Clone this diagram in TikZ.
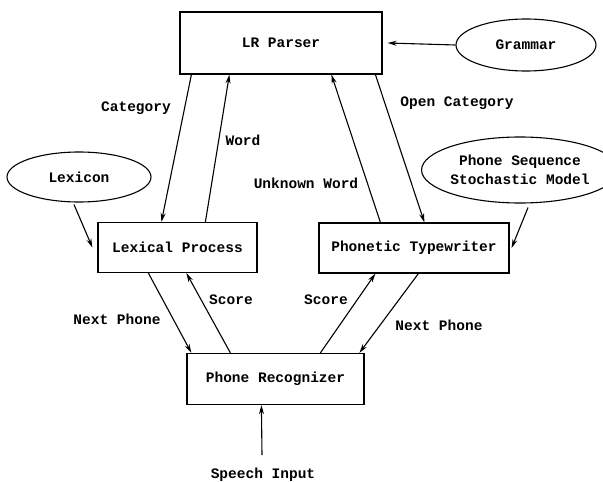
\documentclass[tikz,border=0pt]{standalone}
\usepackage{fontspec}
\newfontfamily\courfont{Liberation Mono}
\usetikzlibrary{shapes.geometric,arrows.meta,calc}
\tikzset{
  every node/.style={font=\courfont\bfseries\fontsize{14.5}{17}\selectfont},
  procbox/.style={draw, line width=1.2pt, rectangle, inner sep=0pt},
  srcell/.style={draw, line width=1.1pt, ellipse, inner sep=0pt},
  lbl/.style={inner sep=0pt},
  flow/.style={line width=1.1pt, -{Stealth[length=9pt,width=5pt]}}
}
\begin{document}
\begin{tikzpicture}[x=1pt,y=-1pt]
\useasboundingbox (0,0) rectangle (603,482);
% boxes
\node[procbox, minimum width=202pt, minimum height=62pt] (lr) at (281,43) {LR Parser};
\node[procbox, minimum width=159pt, minimum height=50pt] (lp) at (177.5,247.5) {Lexical Process};
\node[procbox, minimum width=190pt, minimum height=50pt] (pt) at (414,248) {Phonetic Typewriter};
\node[procbox, minimum width=177pt, minimum height=51pt] (pr) at (275.5,379) {Phone Recognizer};
% ellipses
\node[srcell, minimum width=140pt, minimum height=52pt] (gram) at (526,45) {Grammar};
\node[srcell, minimum width=144pt, minimum height=50pt] (lex) at (79,177) {Lexicon};
\node[srcell, minimum width=164pt, minimum height=66pt, align=center] (pss) at (520,170) {Phone Sequence\\[2pt]Stochastic Model};
% labels
\node[lbl] (lcat) at (136,108) {Category};
\node[lbl] (lword) at (243,140) {Word};
\node[lbl] (lunk) at (306,183) {Unknown Word};
\node[lbl] (lopen) at (457,103) {Open Category};
\node[lbl] (lsc1) at (231,300) {Score};
\node[lbl] (lsc2) at (326,300) {Score};
\node[lbl] (lnp1) at (117,319) {Next Phone};
\node[lbl] (lnp2) at (439,325) {Next Phone};
\node[lbl] (lsi) at (263,475) {Speech Input};
\coordinate (sin) at (262,455);
% connectors
\draw[flow] (gram.west) -- ([xshift=5pt,yshift=0pt]lr.east);
\draw[flow] ([xshift=12pt]lr.south west) -- ([xshift=64pt]lp.north west);
\draw[flow] ([xshift=108pt]lp.north west) -- ([xshift=50pt]lr.south west);
\draw[flow] ([xshift=62pt]pt.north west) -- ([xshift=152pt]lr.south west);
\draw[flow] ([xshift=196pt]lr.south west) -- ([xshift=106pt]pt.north west);
\draw[flow] ($(lex.south)+(-5pt,-2pt)$) -- ([xshift=-5pt]lp.west);
\draw[flow] ($(pss.south)+(8pt,-4pt)$) -- ([xshift=2pt]pt.east);
\draw[flow] ([xshift=51pt]lp.south west) -- ([xshift=5pt]pr.north west);
\draw[flow] ([xshift=44pt]pr.north west) -- ([xshift=89pt]lp.south west);
\draw[flow] ([xshift=134pt]pr.north west) -- ([xshift=57pt]pt.south west);
\draw[flow] ([xshift=100pt]pt.south west) -- ([xshift=173pt]pr.north west);
\draw[flow] (sin) -- ([xshift=75pt]pr.south west);
\end{tikzpicture}
\end{document}
